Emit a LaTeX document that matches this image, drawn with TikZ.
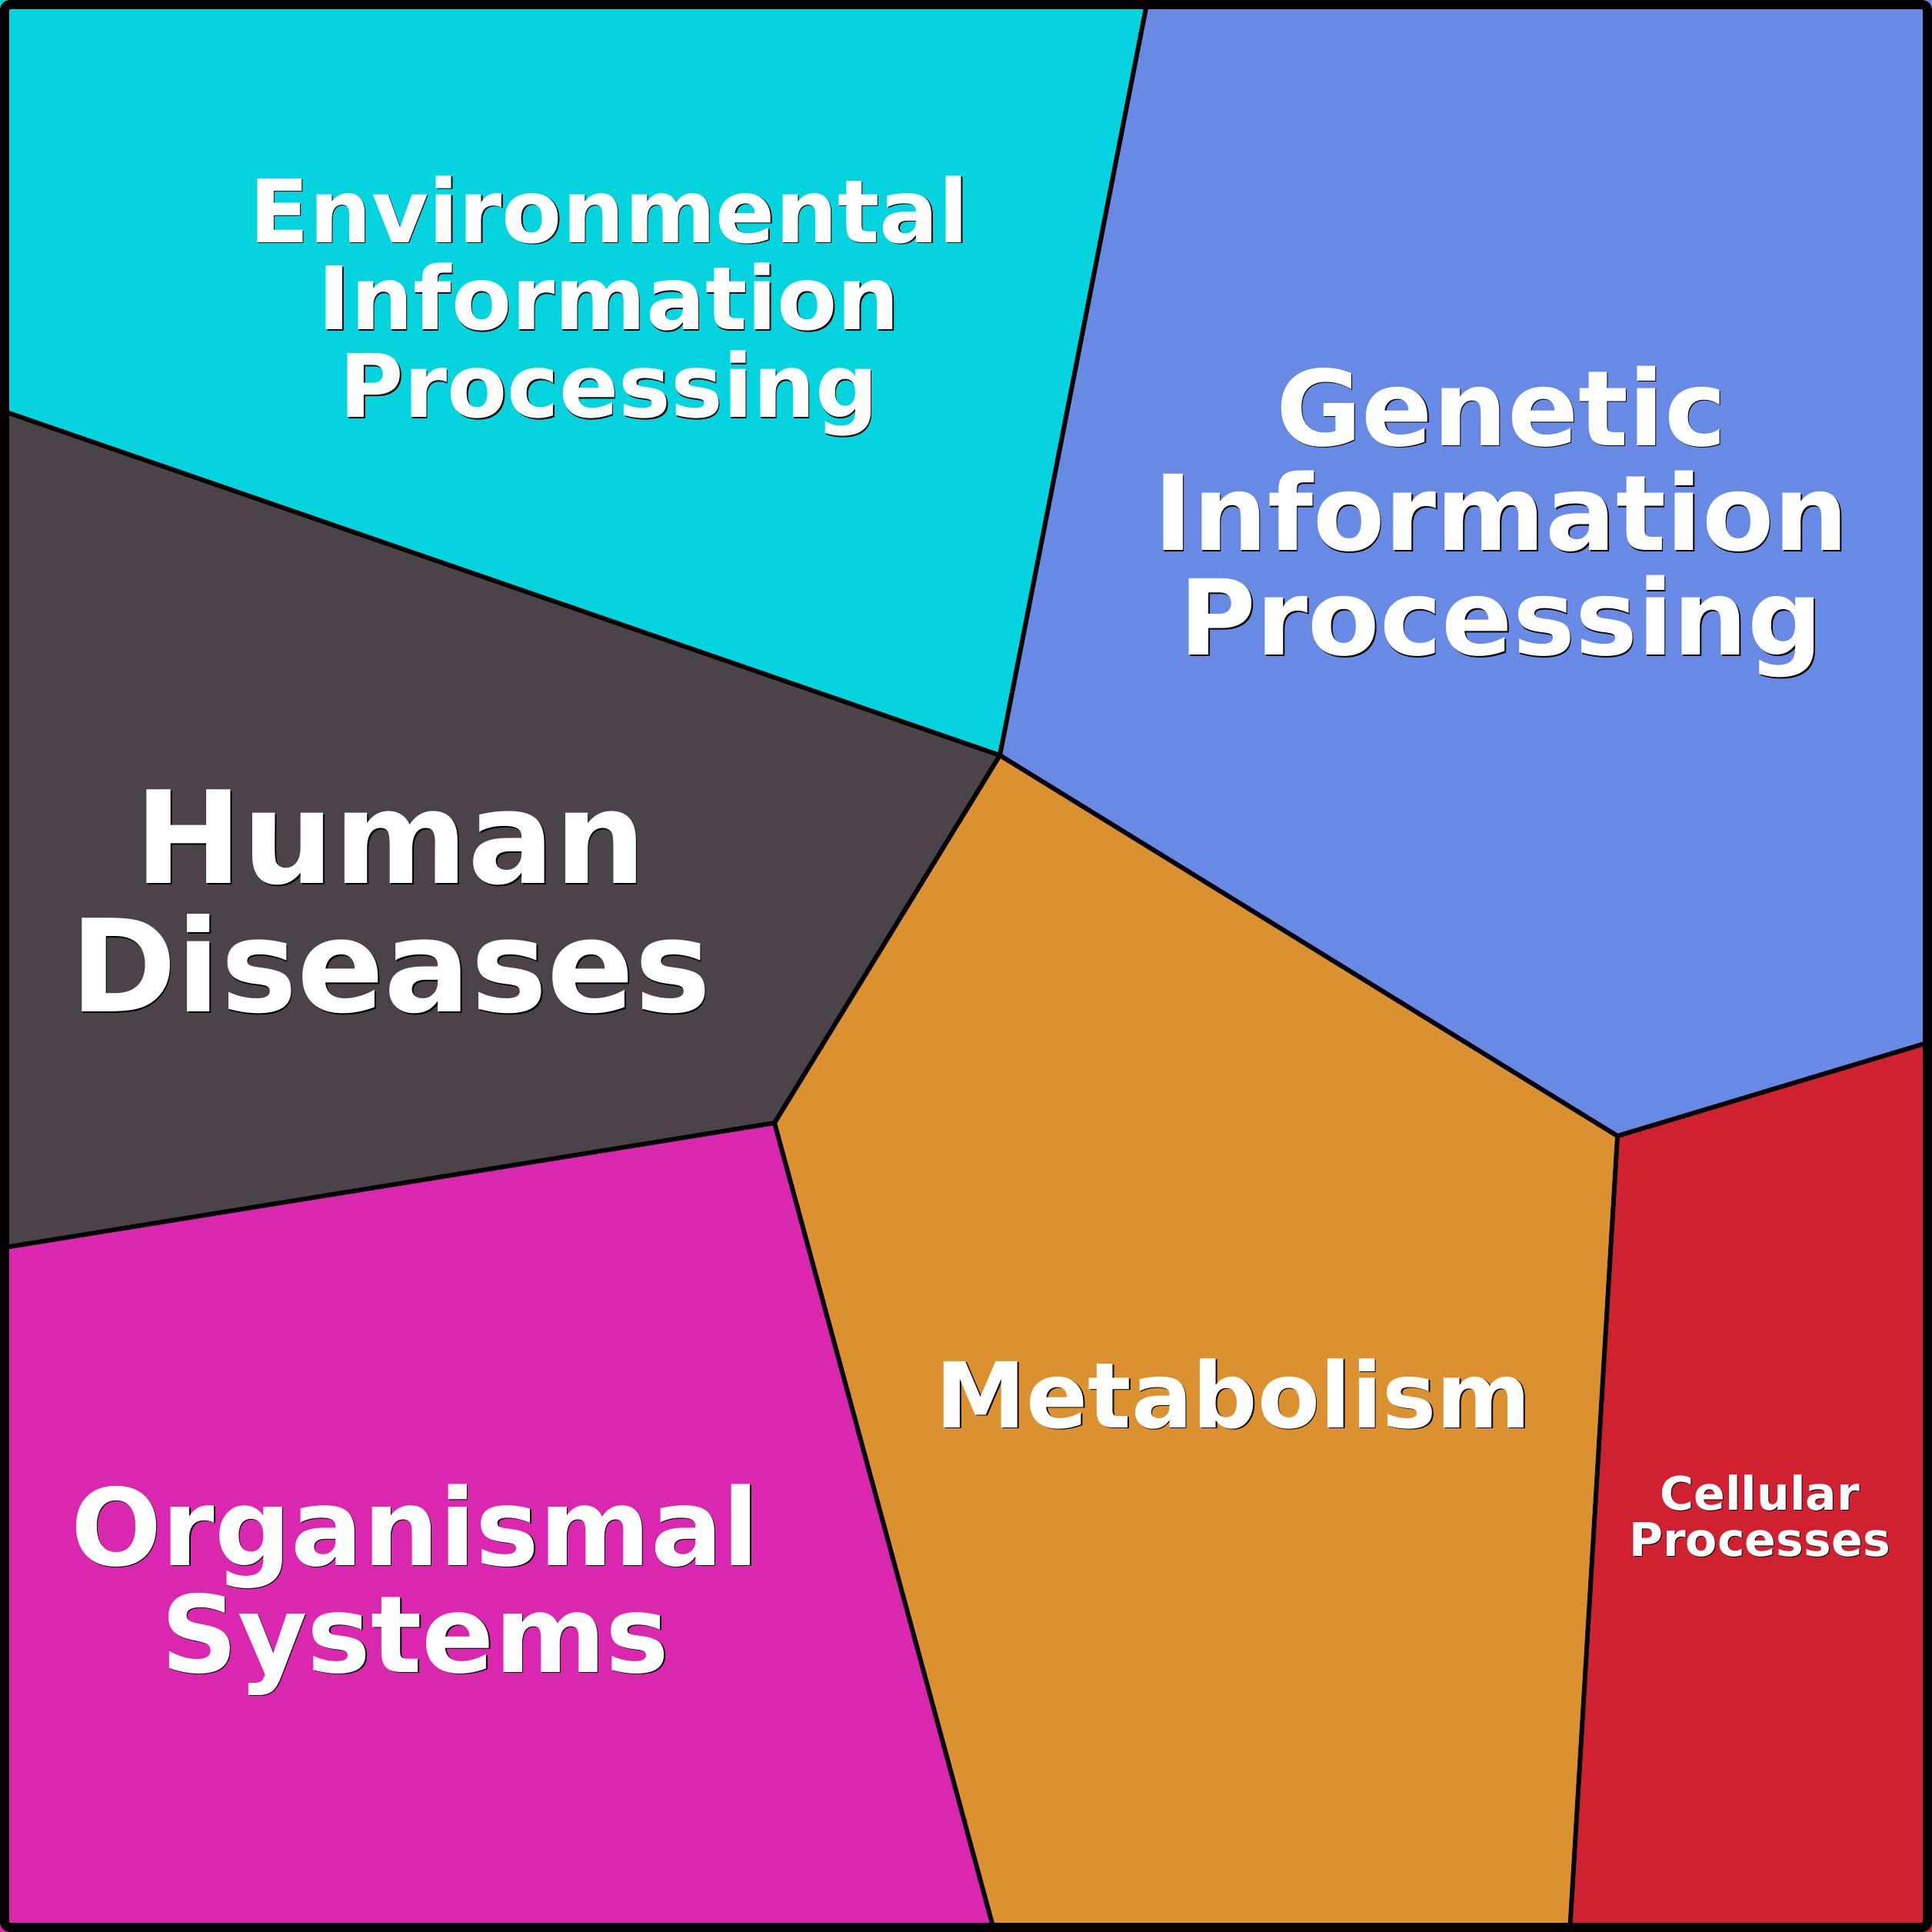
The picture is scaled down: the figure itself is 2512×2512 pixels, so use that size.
\documentclass[tikz,border=0pt]{standalone}
\usepackage{fontspec}
\setmainfont{DejaVu Sans}

\definecolor{envcyan}{RGB}{5,212,223}
\definecolor{genblue}{RGB}{104,137,228}
\definecolor{humdark}{RGB}{75,67,73}
\definecolor{orgmagenta}{RGB}{217,40,175}
\definecolor{metorange}{RGB}{220,145,48}
\definecolor{cellred}{RGB}{208,33,49}

\begin{document}
\begin{tikzpicture}[x=0.01cm, y=-0.01cm,
    % 区域分隔线
    edge_line/.style={line width=1.7pt, line join=round, line cap=round},
    % 白色标题文字
    cell_text/.style={align=center, inner sep=0pt, text=white},
    % 文字下方的黑色阴影
    cell_shadow/.style={align=center, inner sep=0pt, text=black}
]
    \useasboundingbox (0,0) rectangle (2512,2512);

    % ================== 顶点 ==================
    \coordinate (tl) at (0,0);
    \coordinate (tr) at (2512,0);
    \coordinate (bl) at (0,2512);
    \coordinate (br) at (2512,2512);
    \coordinate (top_cut) at (1492,0);
    \coordinate (left_hi) at (0,533);
    \coordinate (left_lo) at (0,1623);
    \coordinate (mid_up) at (1300,982);
    \coordinate (mid_lo) at (1007,1460);
    \coordinate (right_j) at (2103,1477);
    \coordinate (right_cut) at (2512,1354);
    \coordinate (bot_mid) at (1293,2512);
    \coordinate (bot_right) at (2041,2512);

    % ================== 区域填充 ==================
    \fill[envcyan] (tl) -- (top_cut) -- (mid_up) -- (left_hi) -- cycle;
    \fill[genblue] (top_cut) -- (tr) -- (right_cut) -- (right_j) -- (mid_up) -- cycle;
    \fill[humdark] (left_hi) -- (mid_up) -- (mid_lo) -- (left_lo) -- cycle;
    \fill[orgmagenta] (left_lo) -- (mid_lo) -- (bot_mid) -- (bl) -- cycle;
    \fill[metorange] (mid_up) -- (right_j) -- (bot_right) -- (bot_mid) -- (mid_lo) -- cycle;
    \fill[cellred] (right_j) -- (right_cut) -- (br) -- (bot_right) -- cycle;

    % ================== 分隔线 ==================
    \draw[edge_line] (top_cut) -- (mid_up);
    \draw[edge_line] (left_hi) -- (mid_up);
    \draw[edge_line] (mid_up) -- (mid_lo);
    \draw[edge_line] (left_lo) -- (mid_lo);
    \draw[edge_line] (mid_lo) -- (bot_mid);
    \draw[edge_line] (mid_up) -- (right_j);
    \draw[edge_line] (right_j) -- (right_cut);
    \draw[edge_line] (right_j) -- (bot_right);

    % 外框
    \draw[line width=3.4pt, rounded corners=2pt] (6,6) rectangle (2506,2506);

    % ================== 文字 ==================
    \node[cell_shadow, font=\bfseries\fontsize{32.4}{32.4}\selectfont] (env_shadow) at (793.5,399.5) {Environmental\\Information\\Processing};
    \node[cell_text, font=\bfseries\fontsize{32.4}{32.4}\selectfont] (env_text) at (792,398) {Environmental\\Information\\Processing};

    \node[cell_shadow, font=\bfseries\fontsize{38.7}{38.7}\selectfont] (gen_shadow) at (1953.5,680) {Genetic\\Information\\Processing};
    \node[cell_text, font=\bfseries\fontsize{38.7}{38.7}\selectfont] (gen_text) at (1952,678.5) {Genetic\\Information\\Processing};

    \node[cell_shadow, font=\bfseries\fontsize{47.5}{47.5}\selectfont] (hum_shadow) at (509.5,1174) {Human\\Diseases};
    \node[cell_text, font=\bfseries\fontsize{47.5}{47.5}\selectfont] (hum_text) at (508,1172.5) {Human\\Diseases};

    \node[cell_shadow, font=\bfseries\fontsize{39.5}{39.5}\selectfont] (org_shadow) at (541.5,2068.5) {Organismal\\Systems};
    \node[cell_text, font=\bfseries\fontsize{39.5}{39.5}\selectfont] (org_text) at (540,2067) {Organismal\\Systems};

    \node[cell_shadow, font=\bfseries\fontsize{33.6}{33.6}\selectfont] (met_shadow) at (1605.5,1813.5) {Metabolism};
    \node[cell_text, font=\bfseries\fontsize{33.6}{33.6}\selectfont] (met_text) at (1604,1812) {Metabolism};

    \node[cell_shadow, font=\bfseries\fontsize{17.1}{17.1}\selectfont] (cel_shadow) at (2289,1972) {Cellular\\Processes};
    \node[cell_text, font=\bfseries\fontsize{17.1}{17.1}\selectfont] (cel_text) at (2288,1971) {Cellular\\Processes};

\end{tikzpicture}
\end{document}
